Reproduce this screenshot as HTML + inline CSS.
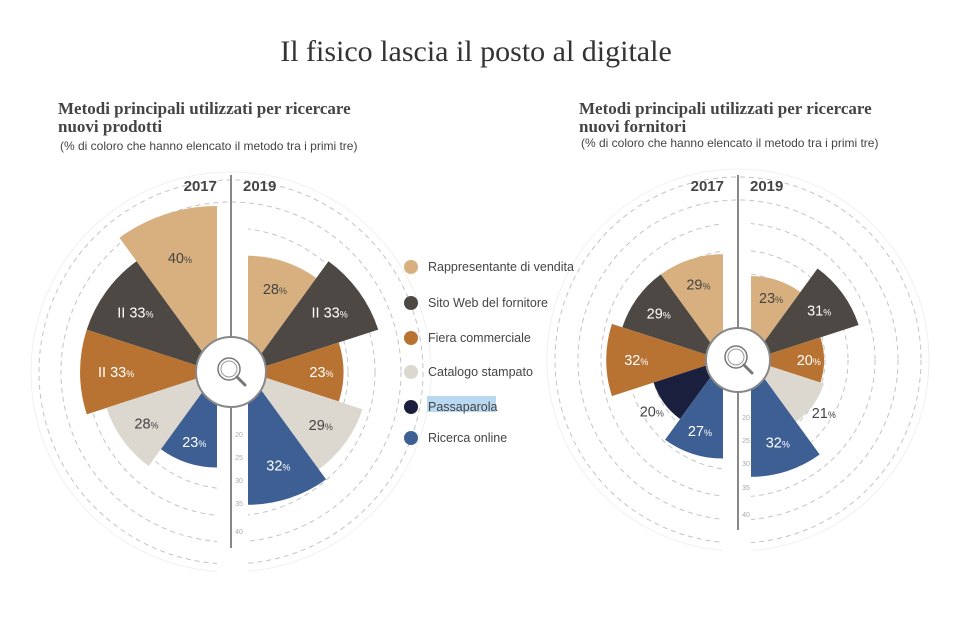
<!DOCTYPE html>
<html><head><meta charset="utf-8"><style>
html,body{margin:0;padding:0;background:#fff;}
svg{display:block}
</style></head><body>
<svg id="s" width="960" height="640" xmlns="http://www.w3.org/2000/svg" font-family="Liberation Sans, sans-serif">
<rect width="960" height="640" fill="#fff"/>
<text x="476" y="61" text-anchor="middle" font-family="Liberation Serif, serif" font-size="30" fill="#333">Il fisico lascia il posto al digitale</text>
<g font-family="Liberation Serif, serif" font-weight="bold" font-size="17" fill="#444">
<text x="58" y="114">Metodi principali utilizzati per ricercare</text>
<text x="58" y="132">nuovi prodotti</text>
<text x="579" y="114">Metodi principali utilizzati per ricercare</text>
<text x="579" y="132">nuovi fornitori</text>
</g>
<g font-size="12" fill="#444">
<text x="60" y="150">(% di coloro che hanno elencato il metodo tra i primi tre)</text>
<text x="581" y="147">(% di coloro che hanno elencato il metodo tra i primi tre)</text>
</g>
<g id="charts"></g>
<g font-size="12.5" fill="#444">
<circle cx="411" cy="267" r="7" fill="#d8b07f"/><text x="428" y="271">Rappresentante di vendita</text>
<circle cx="411" cy="303" r="7" fill="#4d4843"/><text x="428" y="307">Sito Web del fornitore</text>
<circle cx="411" cy="338" r="7" fill="#b87333"/><text x="428" y="342">Fiera commerciale</text>
<circle cx="411" cy="372" r="7" fill="#dcd8cf"/><text x="428" y="376">Catalogo stampato</text>
<rect x="427" y="396" width="69" height="16" fill="#b9d8f2"/>
<circle cx="411" cy="407" r="7" fill="#1a1f3d"/><text x="428" y="411">Passaparola</text>
<circle cx="411" cy="438" r="7" fill="#3d5f94"/><text x="428" y="442">Ricerca online</text>
</g>
</svg>
<script>
var NS="http://www.w3.org/2000/svg",G=document.getElementById("charts");
function el(t,a,p){var e=document.createElementNS(NS,t);for(var k in a)e.setAttribute(k,a[k]);(p||G).appendChild(e);return e;}
var C={t:"#d8b07f",d:"#4d4843",o:"#b87333",l:"#dcd8cf",n:"#1a1f3d",b:"#3d5f94"};
var TC={t:"#444",d:"#fff",o:"#fff",l:"#444",n:"#fff",b:"#fff"};
function P(cx,cy,r,a){a=a*Math.PI/180;return [cx+r*Math.sin(a),cy-r*Math.cos(a)];}
function chart(o){
  var cx=o.cx,cy=o.cy,R=o.rings[o.rings.length-1];
  el("circle",{cx:cx,cy:cy,r:R+8,fill:"none",stroke:"#f0f0f0","stroke-width":1});
  o.rings.forEach(function(r){el("circle",{cx:cx,cy:cy,r:r,fill:"none",stroke:"#c4c4c4","stroke-width":1,"stroke-dasharray":"5,4"});});
  function side(list,sign,dx){
    list.forEach(function(w,i){
      var a0=sign*i*36,a1=sign*(i+1)*36,r=w[1]*o.k,x=cx+dx;
      var p0=P(x,cy,r,a0),p1=P(x,cy,r,a1);
      el("path",{d:"M"+x+","+cy+"L"+p0[0]+","+p0[1]+"A"+r+","+r+" 0 0 "+(sign>0?1:0)+" "+p1[0]+","+p1[1]+"Z",fill:C[w[0]]});
    });
  }
  side(o.l,-1,-o.dl); side(o.r,1,o.dr);
  el("rect",{x:cx-o.dl,y:cy-R+40,width:o.dl+o.dr,height:2*R,fill:"#fff"});
  el("line",{x1:cx,y1:175,x2:cx,y2:o.y2,stroke:"#888","stroke-width":2});
  el("circle",{cx:cx,cy:cy,r:o.cr,fill:"#fff",stroke:"#888","stroke-width":2});
  el("circle",{cx:cx-2,cy:cy-3,r:11,fill:"none",stroke:"#777","stroke-width":1.5});
  el("circle",{cx:cx-2,cy:cy-3,r:8,fill:"none",stroke:"#999","stroke-width":1});
  el("line",{x1:cx+6,y1:cy+5,x2:cx+14,y2:cy+13,stroke:"#777","stroke-width":3,"stroke-linecap":"round"});
  function labels(list,sign,dx){
    list.forEach(function(w,i){
      var am=sign*(i+0.5)*36,r=w[2]||(w[1]*o.k*0.66+o.cr*0.3);
      var p=P(cx+dx,cy,r,am);
      var t=el("text",{x:p[0],y:p[1]+5,"text-anchor":"middle","font-size":14.5,fill:w[3]||TC[w[0]]});
      t.appendChild(document.createTextNode((w[4]||"")+w[1]));
      var s=el("tspan",{"font-size":9},t);s.textContent="%";
    });
  }
  labels(o.l,-1,-o.dl); labels(o.r,1,o.dr);
  var y=el("text",{x:cx-14,y:191,"text-anchor":"end","font-size":15,"font-weight":"bold",fill:"#444"});y.textContent="2017";
  y=el("text",{x:cx+12,y:191,"font-size":15,"font-weight":"bold",fill:"#444"});y.textContent="2019";
  o.ticks.forEach(function(t){var e=el("text",{x:cx+8,y:t[1],"text-anchor":"middle","font-size":7,fill:"#aaa"});e.textContent=t[0];});
}
chart({cx:231,cy:372,k:4.15,cr:35,dl:14,dr:17,y2:548,rings:[69,92,117,144,170,192],
 l:[["t",40],["d",33,0,0,"II "],["o",33,0,0,"II "],["l",28],["b",23]],
 r:[["t",28],["d",33,0,0,"II "],["o",23],["l",29],["b",32]],
 ticks:[["20",437],["25",460],["30",483],["35",506],["40",534]]});
chart({cx:738,cy:360,k:3.65,cr:32,dl:15,dr:13,y2:530,rings:[63,87,110,137,160,183],
 l:[["t",29],["d",29],["o",32],["n",20,88,"#444"],["b",27]],
 r:[["t",23],["d",31],["o",20],["l",21,90,"#444"],["b",32]],
 ticks:[["20",420],["25",443],["30",466],["35",490],["40",517]]});
</script>
</body></html>
